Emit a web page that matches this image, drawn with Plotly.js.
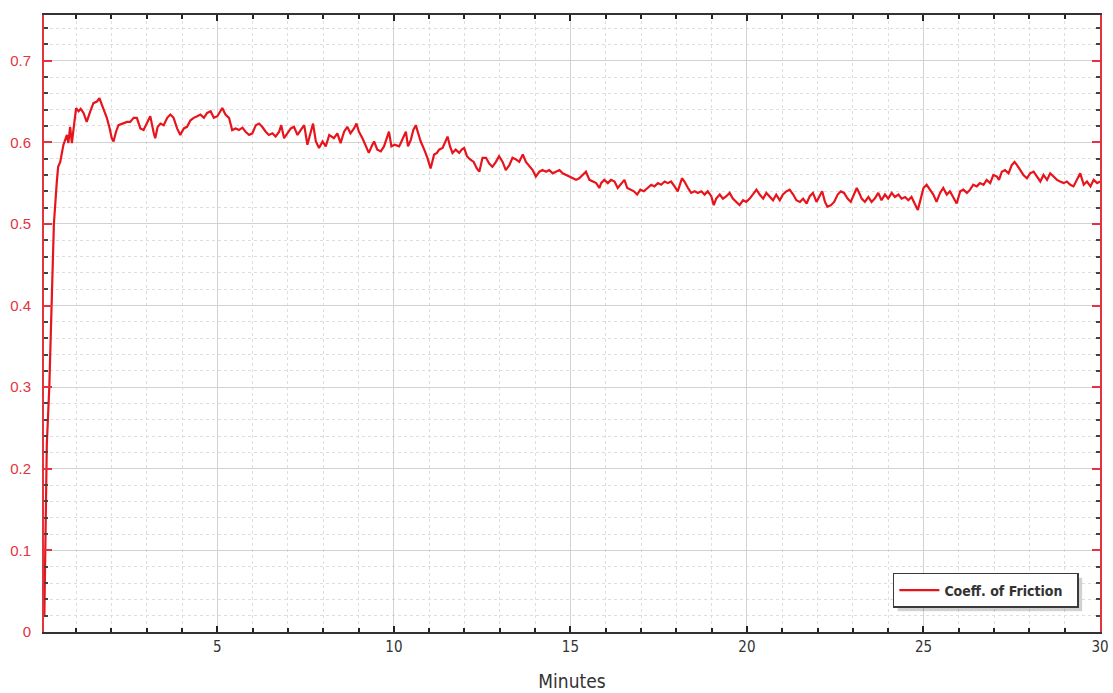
<!DOCTYPE html>
<html>
<head>
<meta charset="utf-8">
<script src="https://cdn.plot.ly/plotly-3.0.1.min.js"></script>
<style>html,body{margin:0;padding:0;background:#fff;}#chart{width:1113px;height:693px;}</style>
</head>
<body>
<div id="chart"></div>
<script>
const minutes = [0.10,0.12,0.14,0.17,0.24,0.27,0.31,0.37,0.45,0.49,
0.55,0.64,0.74,0.78,0.83,0.88,0.94,1.00,1.07,1.13,1.21,1.30,1.40,1.49,1.59,1.66,1.73,1.80,1.87,1.95,2.01,2.06,2.13,2.20,2.34,2.44,2.53,2.63,2.72,2.82,2.91,3.03,3.10,3.20,3.24,3.31,3.39,3.48,3.58,3.67,3.76,3.86,3.95,4.05,4.14,4.24,4.33,4.43,4.52,4.62,4.71,4.81,4.90,5.00,5.09,5.14,5.23,5.33,5.42,5.52,5.61,5.71,5.80,5.90,5.99,6.09,6.18,6.27,6.37,6.46,6.56,6.65,6.75,6.81,6.89,6.98,7.08,7.17,7.27,7.36,7.46,7.55,7.65,7.71,7.79,7.88,7.98,8.07,8.17,
8.30,8.40,8.49,8.59,8.68,8.77,8.87,8.94,9.01,9.11,9.20,9.29,9.39,9.44,9.53,9.63,9.72,9.80,9.86,9.93,10.02,10.15,10.21,10.29,10.34,10.40,10.48,10.55,10.62,10.69,10.76,10.86,10.95,11.04,11.14,11.22,11.28,11.38,11.47,11.52,11.59,11.66,11.75,11.85,11.92,11.99,12.07,12.16,12.26,12.35,12.42,12.51,12.61,12.70,12.79,12.89,12.98,13.08,13.17,13.27,13.36,13.46,13.55,13.65,13.74,13.84,13.93,14.02,14.12,14.21,14.31,14.40,14.50,14.59,14.69,14.78,14.88,14.97,15.07,15.16,15.25,15.35,15.44,15.54,15.63,15.73,15.82,
15.87,15.96,16.06,16.15,16.25,16.34,16.44,16.53,16.61,16.70,16.80,16.89,16.98,17.08,17.19,17.29,17.38,17.48,17.57,17.67,17.76,17.85,17.95,18.04,18.16,18.23,18.33,18.42,18.52,18.61,18.71,18.80,18.89,18.99,19.06,19.13,19.23,19.32,19.42,19.51,19.60,19.70,19.79,19.89,19.98,20.08,20.17,20.27,20.36,20.46,20.55,20.64,20.74,20.83,20.93,21.02,21.12,21.21,21.31,21.40,21.50,21.59,21.69,21.78,21.87,21.97,22.06,22.13,22.21,22.28,22.38,22.47,22.57,22.66,22.75,22.85,22.94,23.04,23.11,23.20,
23.25,23.34,23.44,23.53,23.62,23.72,23.81,23.91,24.00,24.10,24.19,24.29,24.38,24.48,24.57,24.66,24.76,24.84,24.90,25.00,25.09,25.19,25.28,25.37,25.47,25.56,25.66,25.75,25.85,25.94,26.04,26.13,26.23,26.32,26.41,26.51,26.60,26.70,26.79,26.89,26.98,27.08,27.14,27.22,27.31,27.41,27.50,27.58,27.65,27.74,27.83,27.93,28.02,28.12,28.21,28.31,28.40,28.50,28.59,28.68,28.78,28.87,28.97,29.06,29.16,29.25,29.35,29.44,29.54,29.63,29.73,29.82,29.92,30.00];

const cof = [0.02,0.10,0.17,0.23,0.30,0.35,0.40,0.50,0.55,0.57,
0.576,0.597,0.609,0.599,0.619,0.599,0.621,0.642,0.638,0.641,0.636,0.625,0.638,0.648,0.650,0.654,0.646,0.638,0.630,0.617,0.605,0.601,0.613,0.621,0.623,0.625,0.625,0.630,0.630,0.617,0.615,0.625,0.632,0.611,0.605,0.619,0.623,0.621,0.630,0.634,0.630,0.617,0.609,0.617,0.619,0.627,0.630,0.632,0.634,0.630,0.636,0.638,0.630,0.632,0.638,0.642,0.634,0.630,0.615,0.617,0.615,0.618,0.613,0.609,0.611,0.621,0.623,0.619,0.613,0.609,0.611,0.607,0.613,0.621,0.605,0.611,0.617,0.619,0.609,0.615,0.621,0.597,0.613,0.623,0.601,0.593,0.601,0.595,0.609,
0.605,0.611,0.599,0.613,0.619,0.611,0.617,0.623,0.613,0.605,0.595,0.587,0.597,0.601,0.591,0.589,0.595,0.605,0.613,0.595,0.597,0.595,0.601,0.607,0.613,0.595,0.603,0.615,0.621,0.611,0.601,0.591,0.581,0.568,0.585,0.587,0.591,0.593,0.603,0.607,0.595,0.587,0.591,0.587,0.591,0.593,0.583,0.579,0.576,0.568,0.564,0.581,0.581,0.574,0.570,0.576,0.583,0.576,0.566,0.572,0.581,0.579,0.576,0.585,0.576,0.570,0.566,0.558,0.564,0.566,0.564,0.566,0.562,0.564,0.566,0.562,0.560,0.558,0.556,0.554,0.556,0.560,0.564,0.554,0.552,0.550,0.544,
0.550,0.554,0.550,0.554,0.552,0.544,0.550,0.554,0.544,0.542,0.540,0.536,0.542,0.540,0.544,0.548,0.546,0.550,0.548,0.552,0.550,0.552,0.546,0.540,0.556,0.552,0.544,0.538,0.540,0.538,0.540,0.536,0.540,0.534,0.523,0.531,0.536,0.531,0.534,0.538,0.531,0.527,0.523,0.529,0.527,0.531,0.536,0.542,0.536,0.531,0.538,0.534,0.529,0.536,0.529,0.536,0.540,0.542,0.536,0.529,0.527,0.531,0.525,0.534,0.538,0.527,0.534,0.540,0.527,0.521,0.523,0.527,0.536,0.540,0.538,0.531,0.527,0.538,0.544,0.536,
0.531,0.527,0.533,0.527,0.531,0.538,0.529,0.536,0.531,0.538,0.533,0.536,0.531,0.533,0.529,0.533,0.523,0.517,0.527,0.544,0.548,0.542,0.536,0.527,0.538,0.544,0.536,0.540,0.533,0.525,0.540,0.542,0.538,0.542,0.548,0.546,0.550,0.548,0.554,0.550,0.560,0.558,0.554,0.564,0.566,0.562,0.572,0.576,0.572,0.566,0.560,0.556,0.562,0.564,0.558,0.552,0.560,0.554,0.562,0.558,0.554,0.552,0.550,0.552,0.548,0.546,0.554,0.562,0.548,0.552,0.546,0.554,0.550,0.552];

const xTickVals = [5, 10, 15, 20, 25, 30];
const yTickVals = [0, 0.1, 0.2, 0.3, 0.4, 0.5, 0.6, 0.7];
const yTickText = ['0', '0.1', '0.2', '0.3', '0.4', '0.5', '0.6', '0.7'];
const seriesName = 'Coeff. of Friction';
const xTitle = 'Minutes';

const RED = '#e3343e';
const NARROW = '"DejaVu Sans Condensed", "Liberation Sans Narrow", "Liberation Sans", Arial, sans-serif';

const trace = {
  x: minutes, y: cof, type: 'scatter', mode: 'lines',
  name: '<b>' + seriesName + '</b>',
  line: {color: '#e8141c', width: 2.2}
};

const layout = {
  width: 1113, height: 693,
  margin: {l: 44, r: 13, t: 15, b: 61},
  paper_bgcolor: '#ffffff', plot_bgcolor: '#ffffff',
  font: {family: 'Arial, "Liberation Sans", sans-serif'},
  showlegend: true,
  legend: {
    orientation: 'h',
    x: 0.98, xanchor: 'right', y: 0.039, yanchor: 'bottom',
    bgcolor: '#ffffff', bordercolor: '#3a3a3a', borderwidth: 1.5,
    font: {family: NARROW, size: 14, color: '#333'},
    itemwidth: 40, entrywidth: 128
  },
  xaxis: {
    range: [0.09, 30], tickmode: 'array', tickvals: xTickVals,
    ticks: 'inside', ticklen: 6, tickwidth: 2, tickcolor: '#222',
    showline: true, linecolor: '#333', linewidth: 2, mirror: 'ticks',
    showgrid: true, gridcolor: '#d2d2d2', gridwidth: 1, zeroline: false,
    tickfont: {size: 15, color: '#333', family: NARROW},
    minor: {dtick: 1, tick0: 0, ticks: 'inside', ticklen: 4, tickwidth: 2, tickcolor: '#222',
            showgrid: true, gridcolor: '#dedede', gridwidth: 1, griddash: 'dot'},
    title: {text: xTitle, font: {size: 19, color: '#333', family: NARROW}, standoff: 20}
  },
  yaxis: {
    range: [0, 0.756], tickmode: 'array', tickvals: yTickVals, ticktext: yTickText,
    ticks: 'inside', ticklen: 8, tickwidth: 2, tickcolor: RED,
    showline: true, linecolor: RED, linewidth: 2, mirror: 'ticks',
    showgrid: true, gridcolor: '#d2d2d2', gridwidth: 1, zeroline: false,
    tickfont: {size: 15, color: RED},
    ticklabelstandoff: 8,
    minor: {dtick: 0.02, tick0: 0, ticks: 'inside', ticklen: 4, tickwidth: 2, tickcolor: '#444',
            showgrid: true, gridcolor: '#dedede', gridwidth: 1, griddash: 'dot'}
  }
};

Plotly.newPlot('chart', [trace], layout, {displayModeBar: false, staticPlot: true}).then(function(gd){
  // soft drop shadow behind the legend box
  const leg = gd.querySelector('.legend');
  const bg = leg && leg.querySelector('.bg');
  if (bg) {
    const ns = 'http://www.w3.org/2000/svg';
    const r = document.createElementNS(ns, 'rect');
    r.setAttribute('x', +bg.getAttribute('x') + 4);
    r.setAttribute('y', +bg.getAttribute('y') + 4);
    r.setAttribute('width', bg.getAttribute('width'));
    r.setAttribute('height', bg.getAttribute('height'));
    r.setAttribute('fill', 'rgba(0,0,0,0.18)');
    leg.insertBefore(r, leg.firstChild);
  }
});
</script>
</body>
</html>
